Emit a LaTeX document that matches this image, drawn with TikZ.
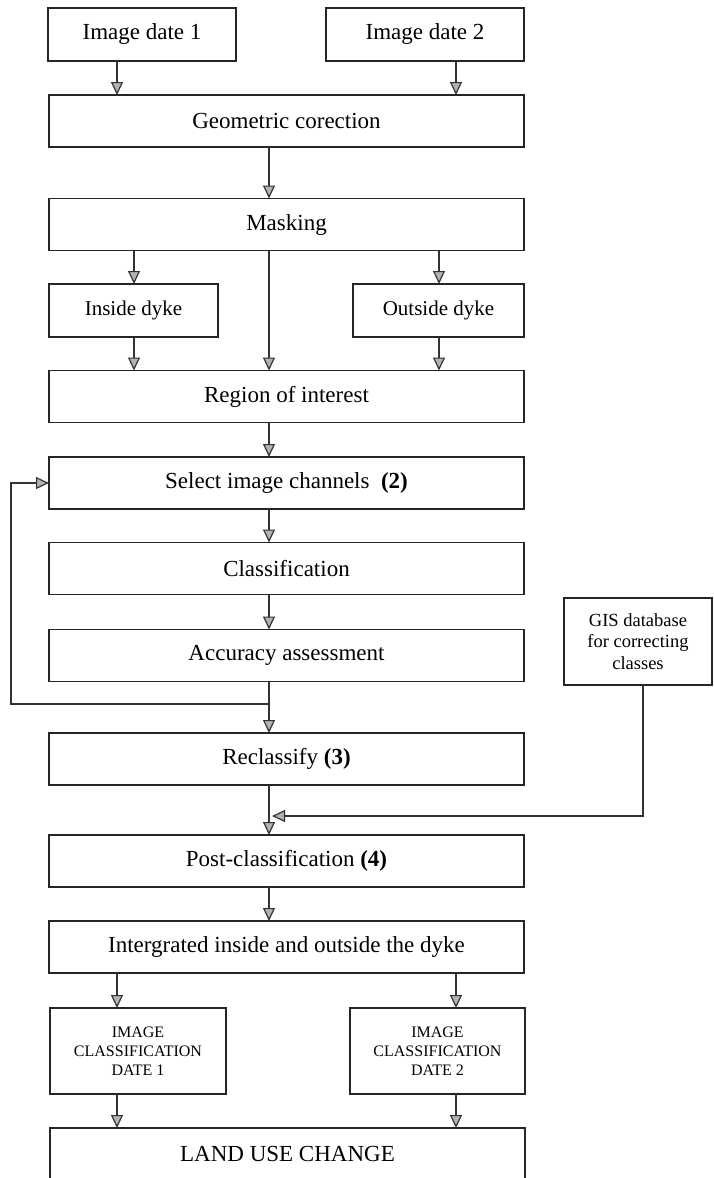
\documentclass[tikz,border=0pt]{standalone}
\usepackage{fontspec}
\setmainfont{Liberation Serif}
\usetikzlibrary{arrows.meta}
\begin{document}
\begin{tikzpicture}[x=1pt,y=-1pt,
  box/.style={draw=black!85, line width=1.7pt, inner sep=0pt, outer sep=0pt, align=center, font=\fontsize{23}{27}\selectfont},
  wide/.style={box, minimum width=475pt, minimum height=52pt},
  flow/.style={draw=black!80, line width=1.7pt, -{Triangle[width=12pt,length=13pt,fill=gray!60,line width=1.2pt]}}]
\useasboundingbox (0,0) rectangle (713,1178);
% axes of the connectors
\coordinate (ax) at (269,0);
\coordinate (al) at (117,0);
\coordinate (ar) at (456,0);
\coordinate (ai) at (134,0);
\coordinate (ao) at (439,0);
\coordinate (fb) at (11,704);
\coordinate (jn) at (272,816);
% boxes
\node[box, minimum width=188pt, minimum height=53pt] (d1) at (142,34.5) {Image date 1};
\node[box, minimum width=198pt, minimum height=53pt] (d2) at (425,34.5) {Image date 2};
\node[wide] (geo) at (286.5,121) {Geometric corection};
\node[wide] (mask) at (286.5,224.5) {Masking};
\node[box, minimum width=169pt, minimum height=53pt, font=\fontsize{21}{25}\selectfont] (in) at (133.5,310.5) {Inside dyke};
\node[box, minimum width=171pt, minimum height=53pt, font=\fontsize{21}{25}\selectfont] (out) at (438.5,310.5) {Outside dyke};
\node[wide] (roi) at (286.5,396.5) {Region of interest};
\node[wide] (sel) at (286.5,483) {Select image channels\ \ \textbf{(2)}};
\node[wide] (cls) at (286.5,568.5) {Classification};
\node[wide] (acc) at (286.5,655.5) {Accuracy assessment};
\node[wide] (rec) at (286.5,759) {Reclassify \textbf{(3)}};
\node[box, minimum width=148pt, minimum height=87pt, font=\fontsize{18.5}{21.5}\selectfont] (gis) at (638,641.5) {GIS database\\for correcting\\classes};
\node[wide] (post) at (286.5,861) {Post-classification \textbf{(4)}};
\node[wide] (int) at (286.5,947) {Intergrated inside and outside the dyke};
\node[box, minimum width=176pt, minimum height=86pt, font=\fontsize{16}{19}\selectfont] (ic1) at (138,1051) {IMAGE\\CLASSIFICATION\\DATE 1};
\node[box, minimum width=175pt, minimum height=86pt, font=\fontsize{16}{19}\selectfont] (ic2) at (437.5,1051) {IMAGE\\CLASSIFICATION\\DATE 2};
\node[wide] (luc) at (287.5,1154) {LAND USE CHANGE};
% connectors
\draw[flow] (d1.south -| al) -- (geo.north -| al);
\draw[flow] (d2.south -| ar) -- (geo.north -| ar);
\draw[flow] (geo.south -| ax) -- (mask.north -| ax);
\draw[flow] (mask.south -| ai) -- (in.north -| ai);
\draw[flow] (mask.south -| ao) -- (out.north -| ao);
\draw[flow] (mask.south -| ax) -- (roi.north -| ax);
\draw[flow] (in.south -| ai) -- (roi.north -| ai);
\draw[flow] (out.south -| ao) -- (roi.north -| ao);
\draw[flow] (roi.south -| ax) -- (sel.north -| ax);
\draw[flow] (sel.south -| ax) -- (cls.north -| ax);
\draw[flow] (cls.south -| ax) -- (acc.north -| ax);
\draw[flow] (acc.south -| ax) -- (rec.north -| ax);
\draw[flow] (fb -| ax) -- (fb) |- (sel.west);
\draw[flow] (rec.south -| ax) -- (post.north -| ax);
\draw[flow] ([xshift=5pt]gis.south) |- (jn);
\draw[flow] (post.south -| ax) -- (int.north -| ax);
\draw[flow] (int.south -| al) -- (ic1.north -| al);
\draw[flow] (int.south -| ar) -- (ic2.north -| ar);
\draw[flow] (ic1.south -| al) -- (luc.north -| al);
\draw[flow] (ic2.south -| ar) -- (luc.north -| ar);
\end{tikzpicture}
\end{document}
